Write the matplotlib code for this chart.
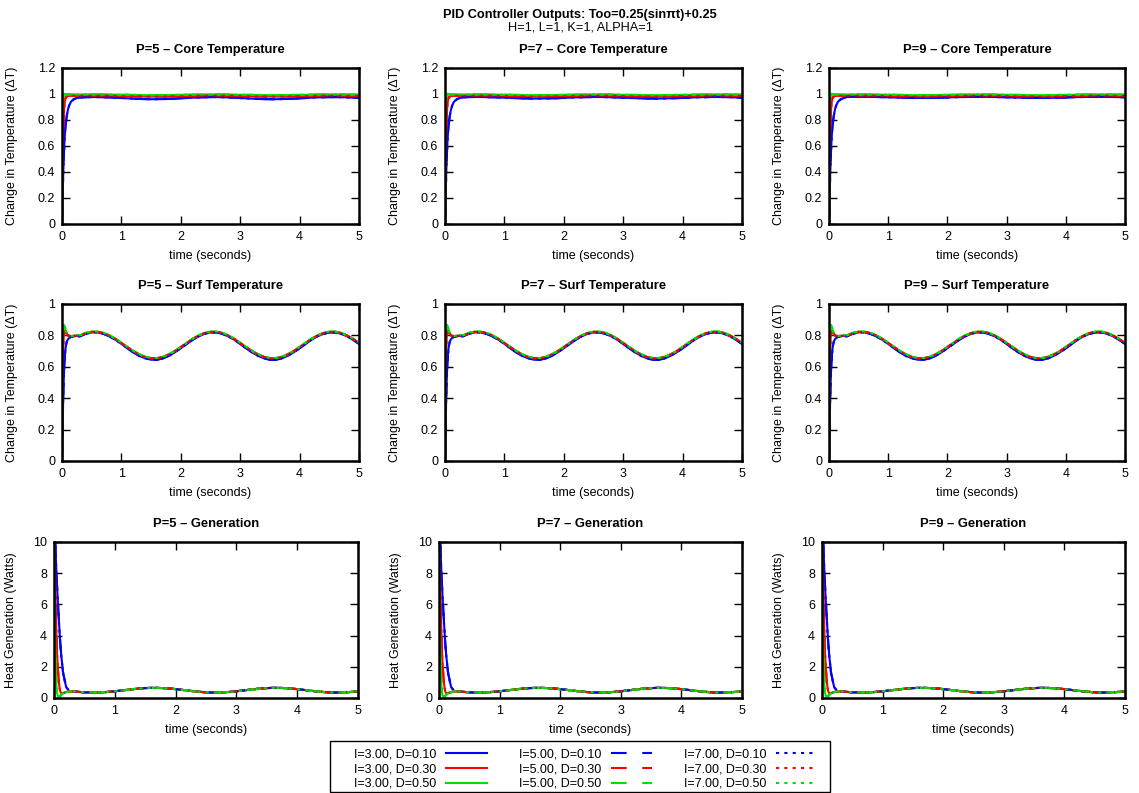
import matplotlib
matplotlib.use("Agg")
import matplotlib.pyplot as plt
from matplotlib.ticker import FuncFormatter
from matplotlib.lines import Line2D
from matplotlib.patches import Rectangle

plt.rcParams['font.family'] = ['Liberation Sans', 'DejaVu Sans']

# ---------------- data ----------------
P_VALUES = [5, 7, 9]
I_VALUES = [3.00, 5.00, 7.00]
D_VALUES = [0.10, 0.30, 0.50]

T_START = [0.00, 0.01, 0.02, 0.03, 0.04, 0.05, 0.06, 0.08, 0.10, 0.12, 0.15, 0.20, 0.25]
T_STEADY = [0.3, 0.4, 0.5, 0.6, 0.7, 0.8, 0.9, 1.0, 1.1, 1.2, 1.3, 1.4, 1.5, 1.6, 1.7, 1.8,
            1.9, 2.0, 2.1, 2.2, 2.3, 2.4, 2.5, 2.6, 2.7, 2.8, 2.9, 3.0, 3.1, 3.2, 3.3, 3.4,
            3.5, 3.6, 3.7, 3.8, 3.9, 4.0, 4.1, 4.2, 4.3, 4.4, 4.5, 4.6, 4.7, 4.8, 4.9, 5.0]

# Core temperature
CORE_START_D010 = [0.0, 0.20, 0.38, 0.52, 0.62, 0.70, 0.76, 0.83, 0.88, 0.91, 0.94, 0.96, 0.97]
CORE_START_D030 = [0.0, 0.45, 0.70, 0.84, 0.91, 0.95, 0.97, 0.98, 0.985, 0.986, 0.987, 0.987, 0.987]
CORE_START_D050 = [0.0, 0.80, 0.97, 1.00, 1.00, 0.999, 0.998, 0.997, 0.996, 0.996, 0.996, 0.996, 0.996]
CORE_D010_P5 = [0.974, 0.975, 0.976, 0.976, 0.975, 0.974, 0.972, 0.969, 0.967, 0.964, 0.962, 0.961,
                0.960, 0.960, 0.961, 0.962, 0.964, 0.967, 0.969, 0.972,
                0.974, 0.975, 0.976, 0.976, 0.975, 0.974, 0.972, 0.969, 0.967, 0.964, 0.962, 0.961,
                0.960, 0.960, 0.961, 0.962, 0.964, 0.967, 0.969, 0.972,
                0.974, 0.975, 0.976, 0.976, 0.975, 0.974, 0.972, 0.969]
CORE_D010_P7 = [0.975, 0.976, 0.977, 0.977, 0.976, 0.975, 0.974, 0.972, 0.970, 0.968, 0.967, 0.966,
                0.965, 0.965, 0.966, 0.967, 0.968, 0.970, 0.972, 0.974,
                0.975, 0.976, 0.977, 0.977, 0.976, 0.975, 0.974, 0.972, 0.970, 0.968, 0.967, 0.966,
                0.965, 0.965, 0.966, 0.967, 0.968, 0.970, 0.972, 0.974,
                0.975, 0.976, 0.977, 0.977, 0.976, 0.975, 0.974, 0.972]
CORE_D010_P9 = [0.977, 0.978, 0.978, 0.978, 0.978, 0.977, 0.976, 0.975, 0.973, 0.972, 0.971, 0.970,
                0.970, 0.970, 0.970, 0.971, 0.972, 0.973, 0.975, 0.976,
                0.977, 0.978, 0.978, 0.978, 0.978, 0.977, 0.976, 0.975, 0.973, 0.972, 0.971, 0.970,
                0.970, 0.970, 0.970, 0.971, 0.972, 0.973, 0.975, 0.976,
                0.977, 0.978, 0.978, 0.978, 0.978, 0.977, 0.976, 0.975]
CORE_D030 = [0.987, 0.988, 0.988, 0.988, 0.988, 0.987, 0.986, 0.985, 0.983, 0.982, 0.981, 0.980,
             0.980, 0.980, 0.980, 0.981, 0.982, 0.983, 0.985, 0.986,
             0.987, 0.988, 0.988, 0.988, 0.988, 0.987, 0.986, 0.985, 0.983, 0.982, 0.981, 0.980,
             0.980, 0.980, 0.980, 0.981, 0.982, 0.983, 0.985, 0.986,
             0.987, 0.988, 0.988, 0.988, 0.988, 0.987, 0.986, 0.985]
CORE_D050 = [0.996, 0.997, 0.997, 0.997, 0.997, 0.996, 0.995, 0.994, 0.994, 0.993, 0.992, 0.991,
             0.991, 0.991, 0.991, 0.992, 0.993, 0.994, 0.994, 0.995,
             0.996, 0.997, 0.997, 0.997, 0.997, 0.996, 0.995, 0.994, 0.994, 0.993, 0.992, 0.991,
             0.991, 0.991, 0.991, 0.992, 0.993, 0.994, 0.994, 0.995,
             0.996, 0.997, 0.997, 0.997, 0.997, 0.996, 0.995, 0.994]

# Surface temperature
SURF_START_D010 = [0.0, 0.20, 0.40, 0.53, 0.62, 0.68, 0.72, 0.76, 0.775, 0.783, 0.790, 0.795, 0.797]
SURF_START_D030 = [0.0, 0.45, 0.70, 0.80, 0.825, 0.825, 0.820, 0.810, 0.800, 0.797, 0.796, 0.797, 0.797]
SURF_START_D050 = [0.0, 0.75, 0.85, 0.865, 0.860, 0.850, 0.835, 0.815, 0.800, 0.795, 0.795, 0.798, 0.800]
SURF_D010 = [0.794, 0.810, 0.819, 0.819, 0.810, 0.794, 0.772, 0.746, 0.718, 0.692, 0.670, 0.654,
             0.645, 0.645, 0.654, 0.670, 0.692, 0.718, 0.746, 0.772,
             0.794, 0.810, 0.819, 0.819, 0.810, 0.794, 0.772, 0.746, 0.718, 0.692, 0.670, 0.654,
             0.645, 0.645, 0.654, 0.670, 0.692, 0.718, 0.746, 0.772,
             0.794, 0.810, 0.819, 0.819, 0.810, 0.794, 0.772, 0.746]
SURF_D030 = [0.798, 0.814, 0.822, 0.822, 0.814, 0.798, 0.777, 0.751, 0.725, 0.699, 0.678, 0.662,
             0.654, 0.654, 0.662, 0.678, 0.699, 0.725, 0.751, 0.777,
             0.798, 0.814, 0.822, 0.822, 0.814, 0.798, 0.777, 0.751, 0.725, 0.699, 0.678, 0.662,
             0.654, 0.654, 0.662, 0.678, 0.699, 0.725, 0.751, 0.777,
             0.798, 0.814, 0.822, 0.822, 0.814, 0.798, 0.777, 0.751]
SURF_D050 = [0.800, 0.816, 0.824, 0.824, 0.816, 0.800, 0.779, 0.753, 0.727, 0.701, 0.680, 0.664,
             0.656, 0.656, 0.664, 0.680, 0.701, 0.727, 0.753, 0.779,
             0.800, 0.816, 0.824, 0.824, 0.816, 0.800, 0.779, 0.753, 0.727, 0.701, 0.680, 0.664,
             0.656, 0.656, 0.664, 0.680, 0.701, 0.727, 0.753, 0.779,
             0.800, 0.816, 0.824, 0.824, 0.816, 0.800, 0.779, 0.753]

# Heat generation
GEN_START_D010 = [14.0, 12.0, 10.2, 9.0, 8.0, 7.2, 6.4, 5.0, 3.7, 2.7, 1.6, 0.7, 0.45]
GEN_START_D030 = [14.0, 10.0, 7.5, 5.5, 4.0, 2.9, 2.1, 1.0, 0.45, 0.30, 0.32, 0.38, 0.42]
GEN_START_D050 = [14.0, 7.0, 3.5, 1.7, 0.8, 0.35, 0.15, 0.08, 0.12, 0.20, 0.30, 0.38, 0.42]
GEN_D010 = [0.430, 0.392, 0.364, 0.350, 0.350, 0.364, 0.392, 0.430, 0.476, 0.524, 0.570, 0.608,
            0.636, 0.650, 0.650, 0.636, 0.608, 0.570, 0.524, 0.476,
            0.430, 0.392, 0.364, 0.350, 0.350, 0.364, 0.392, 0.430, 0.476, 0.524, 0.570, 0.608,
            0.636, 0.650, 0.650, 0.636, 0.608, 0.570, 0.524, 0.476,
            0.430, 0.392, 0.364, 0.350, 0.350, 0.364, 0.392, 0.430]
GEN_D030 = [0.432, 0.394, 0.366, 0.352, 0.352, 0.366, 0.394, 0.432, 0.477, 0.523, 0.568, 0.606,
            0.634, 0.648, 0.648, 0.634, 0.606, 0.568, 0.523, 0.477,
            0.432, 0.394, 0.366, 0.352, 0.352, 0.366, 0.394, 0.432, 0.477, 0.523, 0.568, 0.606,
            0.634, 0.648, 0.648, 0.634, 0.606, 0.568, 0.523, 0.477,
            0.432, 0.394, 0.366, 0.352, 0.352, 0.366, 0.394, 0.432]
GEN_D050 = [0.434, 0.396, 0.368, 0.354, 0.354, 0.368, 0.396, 0.434, 0.478, 0.522, 0.566, 0.604,
            0.632, 0.646, 0.646, 0.632, 0.604, 0.566, 0.522, 0.478,
            0.434, 0.396, 0.368, 0.354, 0.354, 0.368, 0.396, 0.434, 0.478, 0.522, 0.566, 0.604,
            0.632, 0.646, 0.646, 0.632, 0.604, 0.566, 0.522, 0.478,
            0.434, 0.396, 0.368, 0.354, 0.354, 0.368, 0.396, 0.434]

ROW_TITLES = ["Core Temperature", "Surf Temperature", "Generation"]
ROW_YLABELS = ["Change in Temperature (\u0394T)", "Change in Temperature (\u0394T)",
               "Heat Generation (Watts)"]
ROW_YLIMS = [(0, 1.2), (0, 1.0), (0, 10)]
ROW_YTICKS = [[0, 0.2, 0.4, 0.6, 0.8, 1.0, 1.2], [0, 0.2, 0.4, 0.6, 0.8, 1.0], [0, 2, 4, 6, 8, 10]]
X_TICKS = [0, 1, 2, 3, 4, 5]

# ---------------- style ----------------
COLORS = ['#0000ff', '#ff0000', '#00e000']
LW = 1.5
STYLES = ['-', (0, (7.5, 7.5)), (0, (1.5, 2.5))]

W, H = 1139, 793
fig = plt.figure(figsize=(W / 100, H / 100), dpi=100)

# pixel boxes (left, right) per row/col and (top, bottom) per row
COL_X = [[(62, 359), (445, 742), (829, 1125)],
         [(62, 359), (445, 742), (829, 1125)],
         [(54, 358), (439, 742), (822, 1125)]]
ROW_Y = [(68, 224), (304, 461), (542, 698)]


def series_for(row, p_idx):
    if row == 0:
        blue = [CORE_D010_P5, CORE_D010_P7, CORE_D010_P9][p_idx]
        return [(CORE_START_D010, blue), (CORE_START_D030, CORE_D030), (CORE_START_D050, CORE_D050)]
    if row == 1:
        return [(SURF_START_D010, SURF_D010), (SURF_START_D030, SURF_D030), (SURF_START_D050, SURF_D050)]
    return [(GEN_START_D010, GEN_D010), (GEN_START_D030, GEN_D030), (GEN_START_D050, GEN_D050)]


fmt = FuncFormatter(lambda v, pos: '%g' % v)
t_all = T_START + T_STEADY
legend_handles = []
legend_labels = []

for r in range(3):
    for c in range(3):
        x0, x1 = COL_X[r][c]
        y0, y1 = ROW_Y[r]
        ax = fig.add_axes([x0 / W, 1 - y1 / H, (x1 - x0) / W, (y1 - y0) / H])
        data = series_for(r, c)
        for ii, ival in enumerate(I_VALUES):
            for di, dval in enumerate(D_VALUES):
                start, steady = data[di]
                ax.plot(t_all, start + steady, color=COLORS[di], lw=LW,
                        linestyle=STYLES[ii], clip_on=True)
                if r == 0 and c == 0:
                    legend_handles.append(Line2D([], [], color=COLORS[di], lw=LW,
                                                 linestyle=STYLES[ii]))
                    legend_labels.append("I=%.2f, D=%.2f" % (ival, dval))
        ax.set_xlim(0, 5)
        ax.set_ylim(*ROW_YLIMS[r])
        ax.set_xticks(X_TICKS)
        ax.set_yticks(ROW_YTICKS[r])
        ax.xaxis.set_major_formatter(fmt)
        ax.yaxis.set_major_formatter(fmt)
        ax.tick_params(direction='in', length=6, width=1, top=True, right=True,
                       labelsize=9, pad=5, colors='black')
        for s in ax.spines.values():
            s.set_linewidth(1.8)
        ax.set_title("P=%d \u2013 %s" % (P_VALUES[c], ROW_TITLES[r]), fontsize=9.4,
                     fontweight='bold', pad=11)
        ax.set_xlabel("time (seconds)", fontsize=9, labelpad=5)
        ax.set_ylabel(ROW_YLABELS[r], fontsize=9)
        ycen = 1 - ((y0 + y1) / 2) / H
        ax.yaxis.set_label_coords((x0 - 44) / W if r < 2 else (x0 - 37) / W, ycen,
                                  transform=fig.transFigure)

fig.text(580 / W, 1 - 15 / H, "PID Controller Outputs: Too=0.25(sin\u03c0t)+0.25",
         ha='center', va='center', fontsize=9.2, fontweight='bold')
fig.text(580 / W, 1 - 27 / H, "H=1, L=1, K=1, ALPHA=1", ha='center', va='center', fontsize=9.2)

# legend frame (gnuplot-style box) and entries
fig.patches.append(Rectangle((330 / W, 1 - 792 / H), 500 / W, 51 / H,
                             transform=fig.transFigure, fill=False,
                             edgecolor='black', linewidth=1.0))
leg = fig.legend(legend_handles, legend_labels, loc='upper left', ncol=3,
                 bbox_to_anchor=(354 / W, 1 - 748.5 / H), fontsize=9, markerfirst=False,
                 handlelength=3.3, labelspacing=0.22, columnspacing=2.55,
                 frameon=False, borderpad=0.0, borderaxespad=0.0, handletextpad=0.75)

fig.savefig("out.png", dpi=100)
